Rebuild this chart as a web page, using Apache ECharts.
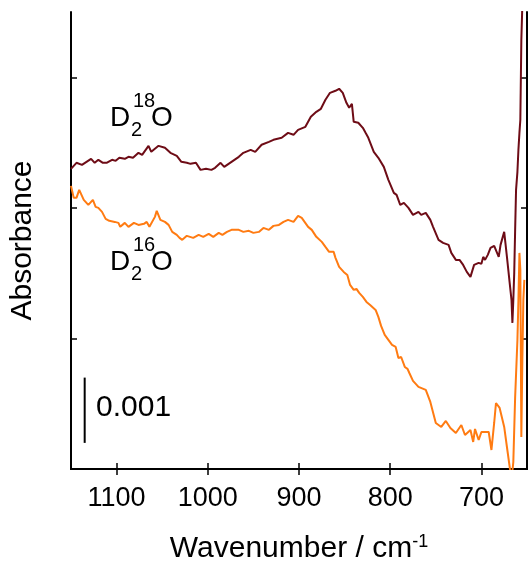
<!DOCTYPE html>
<html>
<head>
<meta charset="utf-8">
<script src="https://cdn.jsdelivr.net/npm/echarts@6/dist/echarts.min.js"></script>
<style>
  html, body { margin: 0; padding: 0; background: #fff; }
  #chart { width: 528px; height: 562px; }
</style>
</head>
<body>
<div id="chart"></div>
<script>
// wavenumber (cm-1) and absorbance
const d18Wavenumber = [1150, 1144, 1138, 1133, 1128, 1124, 1120, 1115, 1111, 1105, 1101, 1097, 1091, 1087, 1082, 1076, 1072, 1065, 1062, 1054, 1047, 1041, 1034, 1029, 1023, 1019, 1013, 1008, 1002, 996, 992, 986, 982, 974, 966, 961, 953, 948, 941, 933, 928, 919, 912, 906, 901, 893, 887, 881, 876, 871, 866, 860, 856, 852, 848, 845, 842, 840, 835, 830, 827, 824, 818, 813, 807, 802, 796, 793, 789, 785, 780, 775, 769, 766, 761, 756, 753, 747, 742, 736, 733, 728, 724, 720, 716, 712, 710, 708, 703, 700, 698, 696, 693, 690, 686, 684, 681, 679, 675, 672, 669, 667, 666, 665, 664, 663, 662, 660.5, 659.4, 658.3, 657.3, 656.2, 655.1];
const d18Absorbance = [0.004598, 0.004690, 0.004659, 0.004705, 0.004751, 0.004690, 0.004736, 0.004690, 0.004690, 0.004736, 0.004720, 0.004766, 0.004751, 0.004782, 0.004766, 0.004843, 0.004812, 0.004950, 0.004858, 0.004950, 0.004920, 0.004843, 0.004797, 0.004705, 0.004690, 0.004674, 0.004690, 0.004582, 0.004598, 0.004582, 0.004613, 0.004690, 0.004628, 0.004705, 0.004782, 0.004843, 0.004889, 0.004858, 0.004966, 0.005011, 0.005042, 0.005073, 0.005149, 0.005119, 0.005195, 0.005241, 0.005395, 0.005471, 0.005517, 0.005655, 0.005762, 0.005793, 0.005824, 0.005762, 0.005609, 0.005533, 0.005594, 0.005318, 0.005303, 0.005226, 0.005149, 0.005073, 0.004858, 0.004766, 0.004628, 0.004429, 0.004230, 0.004199, 0.004046, 0.004077, 0.004000, 0.003893, 0.003939, 0.003893, 0.003923, 0.003816, 0.003709, 0.003510, 0.003464, 0.003433, 0.003310, 0.003203, 0.003203, 0.003126, 0.003019, 0.002943, 0.002973, 0.003126, 0.003157, 0.003142, 0.003249, 0.003203, 0.003280, 0.003387, 0.003418, 0.003402, 0.003249, 0.003433, 0.003632, 0.003249, 0.002851, 0.002590, 0.002238, 0.002590, 0.003004, 0.003663, 0.004276, 0.004552, 0.004889, 0.005149, 0.005349, 0.006575, 0.007111];

const d16Wavenumber = [1150, 1147, 1144, 1141, 1136, 1131, 1126, 1123, 1120, 1116, 1112, 1108, 1102, 1098, 1096, 1091, 1087, 1081, 1076, 1070, 1067, 1064, 1058, 1056, 1052, 1047, 1043, 1039, 1034, 1031, 1028, 1023, 1021, 1016, 1010, 1005, 999, 994, 988, 984, 979, 974, 966, 961, 955, 950, 944, 939, 933, 928, 922, 917, 912, 906, 901, 897, 895, 890, 886, 881, 875, 871, 867, 862, 860, 856, 851, 847, 844, 840, 837, 834, 830, 826, 822, 816, 813, 810, 806, 802, 798, 794, 791, 788, 784, 781, 779, 775, 769, 761, 756, 750, 744, 739, 734, 728, 722, 718, 712, 709, 707, 703, 700, 692, 689, 686, 684, 680, 678, 675, 672, 669, 667, 665, 663, 660.5, 659.4, 658.3, 657.3, 656.2, 655.1, 654.0, 652.9];
const d16Absorbance = [0.004337, 0.004153, 0.004153, 0.004276, 0.004123, 0.004046, 0.004123, 0.004015, 0.004000, 0.003939, 0.003831, 0.003801, 0.003785, 0.003770, 0.003709, 0.003770, 0.003709, 0.003770, 0.003739, 0.003755, 0.003785, 0.003709, 0.003862, 0.003954, 0.003816, 0.003785, 0.003739, 0.003632, 0.003586, 0.003540, 0.003510, 0.003571, 0.003586, 0.003540, 0.003586, 0.003556, 0.003602, 0.003556, 0.003617, 0.003586, 0.003632, 0.003663, 0.003663, 0.003632, 0.003648, 0.003617, 0.003632, 0.003693, 0.003663, 0.003724, 0.003739, 0.003785, 0.003816, 0.003785, 0.003877, 0.003847, 0.003862, 0.003709, 0.003663, 0.003556, 0.003479, 0.003402, 0.003326, 0.003326, 0.003234, 0.003096, 0.003019, 0.002973, 0.002820, 0.002743, 0.002759, 0.002697, 0.002636, 0.002559, 0.002513, 0.002437, 0.002330, 0.002192, 0.002054, 0.001977, 0.001900, 0.001870, 0.001701, 0.001716, 0.001563, 0.001533, 0.001471, 0.001349, 0.001257, 0.001211, 0.001027, 0.000705, 0.000644, 0.000736, 0.000628, 0.000552, 0.000674, 0.000521, 0.000598, 0.000414, 0.000613, 0.000444, 0.000567, 0.000567, 0.000291, 0.000705, 0.001011, 0.000935, 0.000950, 0.000644, 0.000337, 0.000031, -0.000169, 0.000107, 0.001103, 0.001977, 0.002590, 0.003310, 0.003050, 0.000490, 0.001670, 0.002590, 0.002897];

const xTicks = [700, 800, 900, 1000, 1100];
const yTicks = [0.002, 0.004, 0.006];
// 0.001 scale bar
const scaleBarX = [1135, 1135];
const scaleBarY = [0.0004, 0.0014];

const FONT = "'Liberation Sans', Arial, sans-serif";

const pairs = (xs, ys) => xs.map((x, i) => [x, ys[i]]);

const chart = echarts.init(document.getElementById('chart'), null, { renderer: 'canvas' });

const frameAxis = {
  type: 'value',
  min: 650,
  max: 1150,
  inverse: true,
  axisLine: { show: true, lineStyle: { color: '#000', width: 2 } },
  axisTick: { show: true, inside: true, length: 6, lineStyle: { color: '#000', width: 1.5 }, customValues: xTicks },
  splitLine: { show: false }
};

const frameYAxis = {
  type: 'value',
  min: 0,
  max: 0.007,
  axisLine: { show: true, lineStyle: { color: '#000', width: 2 } },
  axisTick: { show: true, inside: true, length: 6, lineStyle: { color: '#000', width: 1.5 }, customValues: yTicks },
  axisLabel: { show: false },
  splitLine: { show: false }
};

const bigText = (text, x, y, size) => ({
  type: 'text',
  x: x,
  y: y,
  style: { text: text, font: size + 'px ' + FONT, fill: '#000', align: 'left', verticalAlign: 'middle' }
});

const option = {
  animation: false,
  grid: { left: 71, right: 1, top: 12, bottom: 93, outerBoundsMode: 'none', containLabel: false },
  xAxis: [
    Object.assign({}, frameAxis, {
      position: 'bottom',
      axisLabel: {
        show: true,
        customValues: xTicks,
        formatter: (v) => String(v),
        margin: 16,
        color: '#000',
        fontSize: 27,
        fontFamily: FONT
      },
      name: 'Wavenumber / cm{sup|-1}',
      nameLocation: 'middle',
      nameGap: 64,
      nameTextStyle: {
        color: '#000',
        fontSize: 30,
        fontFamily: FONT,
        rich: { sup: { fontSize: 18, fontFamily: FONT, color: '#000', verticalAlign: 'top', padding: [0, 0, 14, 0] } }
      }
    }),
    Object.assign({}, frameAxis, { position: 'top', axisLabel: { show: false } })
  ],
  yAxis: [
    Object.assign({}, frameYAxis, {
      position: 'left',
      name: 'Absorbance',
      nameLocation: 'middle',
      nameGap: 33,
      nameTextStyle: { color: '#000', fontSize: 30, fontFamily: FONT }
    }),
    Object.assign({}, frameYAxis, { position: 'right' })
  ],
  series: [
    {
      name: 'D2 18O',
      type: 'line',
      data: pairs(d18Wavenumber, d18Absorbance),
      showSymbol: false,
      lineStyle: { color: '#6e0c16', width: 2 },
      clip: true
    },
    {
      name: 'D2 16O',
      type: 'line',
      data: pairs(d16Wavenumber, d16Absorbance),
      showSymbol: false,
      lineStyle: { color: '#ff7b12', width: 2 },
      clip: true
    },
    {
      name: 'scale',
      type: 'line',
      data: pairs(scaleBarX, scaleBarY),
      showSymbol: false,
      lineStyle: { color: '#000', width: 2 }
    }
  ],
  graphic: [
    bigText('D', 110, 118, 28),
    bigText('2', 131, 130, 20),
    bigText('18', 133, 101, 20),
    bigText('O', 151, 118, 28),
    bigText('D', 110, 262, 28),
    bigText('2', 131, 274, 20),
    bigText('16', 133, 245, 20),
    bigText('O', 151, 262, 28),
    bigText('0.001', 96, 408, 30)
  ]
};

chart.setOption(option);
</script>
</body>
</html>
